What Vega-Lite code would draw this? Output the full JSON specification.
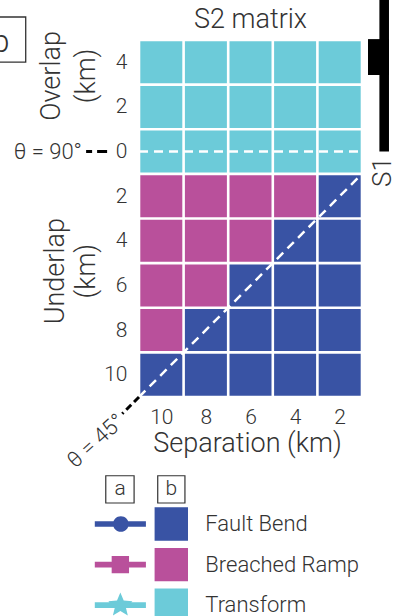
{
  "$schema": "https://vega.github.io/schema/vega-lite/v6.json",
  "width": 223,
  "height": 357,
  "autosize": {"type": "none"},
  "padding": {"left": 139, "top": 40, "right": 34, "bottom": 219},
  "background": "white",
  "data": {
    "values": [
      {"separation": 10, "overlap": 4, "mechanism": "Transform"},
      {"separation": 8, "overlap": 4, "mechanism": "Transform"},
      {"separation": 6, "overlap": 4, "mechanism": "Transform"},
      {"separation": 4, "overlap": 4, "mechanism": "Transform"},
      {"separation": 2, "overlap": 4, "mechanism": "Transform"},
      {"separation": 10, "overlap": 2, "mechanism": "Transform"},
      {"separation": 8, "overlap": 2, "mechanism": "Transform"},
      {"separation": 6, "overlap": 2, "mechanism": "Transform"},
      {"separation": 4, "overlap": 2, "mechanism": "Transform"},
      {"separation": 2, "overlap": 2, "mechanism": "Transform"},
      {"separation": 10, "overlap": 0, "mechanism": "Transform"},
      {"separation": 8, "overlap": 0, "mechanism": "Transform"},
      {"separation": 6, "overlap": 0, "mechanism": "Transform"},
      {"separation": 4, "overlap": 0, "mechanism": "Transform"},
      {"separation": 2, "overlap": 0, "mechanism": "Transform"},
      {"separation": 10, "overlap": -2, "mechanism": "Breached Ramp"},
      {"separation": 8, "overlap": -2, "mechanism": "Breached Ramp"},
      {"separation": 6, "overlap": -2, "mechanism": "Breached Ramp"},
      {"separation": 4, "overlap": -2, "mechanism": "Breached Ramp"},
      {"separation": 2, "overlap": -2, "mechanism": "Fault Bend"},
      {"separation": 10, "overlap": -4, "mechanism": "Breached Ramp"},
      {"separation": 8, "overlap": -4, "mechanism": "Breached Ramp"},
      {"separation": 6, "overlap": -4, "mechanism": "Breached Ramp"},
      {"separation": 4, "overlap": -4, "mechanism": "Fault Bend"},
      {"separation": 2, "overlap": -4, "mechanism": "Fault Bend"},
      {"separation": 10, "overlap": -6, "mechanism": "Breached Ramp"},
      {"separation": 8, "overlap": -6, "mechanism": "Breached Ramp"},
      {"separation": 6, "overlap": -6, "mechanism": "Fault Bend"},
      {"separation": 4, "overlap": -6, "mechanism": "Fault Bend"},
      {"separation": 2, "overlap": -6, "mechanism": "Fault Bend"},
      {"separation": 10, "overlap": -8, "mechanism": "Breached Ramp"},
      {"separation": 8, "overlap": -8, "mechanism": "Fault Bend"},
      {"separation": 6, "overlap": -8, "mechanism": "Fault Bend"},
      {"separation": 4, "overlap": -8, "mechanism": "Fault Bend"},
      {"separation": 2, "overlap": -8, "mechanism": "Fault Bend"},
      {"separation": 10, "overlap": -10, "mechanism": "Fault Bend"},
      {"separation": 8, "overlap": -10, "mechanism": "Fault Bend"},
      {"separation": 6, "overlap": -10, "mechanism": "Fault Bend"},
      {"separation": 4, "overlap": -10, "mechanism": "Fault Bend"},
      {"separation": 2, "overlap": -10, "mechanism": "Fault Bend"}
    ]
  },
  "config": {
    "view": {"stroke": null},
    "font": "Roboto",
    "axis": {
      "domain": false, "ticks": false, "tickSize": 0, "grid": false, "labelFlush": false,
      "labelFont": "Roboto", "labelFontSize": 21, "labelFontWeight": 300, "labelColor": "#333",
      "titleFont": "Roboto", "titleFontSize": 27, "titleFontWeight": 300, "titleColor": "#333"
    },
    "axisX": {"labelPadding": 9, "titlePadding": 3, "labelAngle": 0, "titleX": 108},
    "axisY": {"labelPadding": 12},
    "legend": {
      "orient": "none", "legendX": 15.3, "legendY": 467, "padding": 0,
      "symbolSize": 1116, "symbolStrokeWidth": 0, "symbolOpacity": 1,
      "labelFont": "Roboto", "labelFontSize": 22, "labelFontWeight": 300, "labelColor": "#333",
      "labelOffset": 17, "rowPadding": 6.6
    },
    "text": {"font": "Roboto", "fontWeight": 300, "color": "#333"}
  },
  "layer": [
    {
      "description": "Marker per cell; sits under the cells and feeds the combined legend symbols",
      "mark": {"type": "point", "filled": true, "size": 10},
      "encoding": {
        "x": {"field": "separation", "type": "quantitative", "scale": {"domain": [1, 11], "reverse": true, "nice": false, "zero": false}},
        "y": {"field": "overlap", "type": "quantitative", "scale": {"domain": [-11, 5], "nice": false, "zero": false}},
        "color": {
          "field": "mechanism", "type": "nominal",
          "scale": {"domain": ["Fault Bend", "Breached Ramp", "Transform"], "range": ["#3953a4", "#b9509b", "#6ccbd9"]},
          "legend": {"title": null}
        },
        "shape": {
          "field": "mechanism", "type": "nominal",
          "scale": {
            "domain": ["Fault Bend", "Breached Ramp", "Transform"],
            "range": [
              "M-4.58,-0.17H-1.52V0.17H-4.58Z M-3.49,0A0.47,0.47 0 1 1 -2.55,0A0.47,0.47 0 1 1 -3.49,0Z M-1,-1H1V1H-1Z",
              "M-4.58,-0.17H-1.52V0.17H-4.58Z M-3.57,-0.52H-2.53V0.52H-3.57Z M-1,-1H1V1H-1Z",
              "M-4.58,-0.17H-1.52V0.17H-4.58Z M-3.05,-0.76L-2.85,-0.275L-2.327,-0.235L-2.727,0.105L-2.603,0.615L-3.05,0.34L-3.497,0.615L-3.373,0.105L-3.773,-0.235L-3.25,-0.275Z M-1,-1H1V1H-1Z"
            ]
          },
          "legend": {"title": null}
        }
      }
    },
    {
      "mark": {"type": "rect", "width": 42, "height": 42},
      "encoding": {
        "x": {
          "field": "separation", "type": "quantitative",
          "scale": {"domain": [1, 11], "reverse": true, "nice": false, "zero": false},
          "axis": {"values": [10, 8, 6, 4, 2], "title": "Separation (km)"}
        },
        "y": {
          "field": "overlap", "type": "quantitative",
          "scale": {"domain": [-11, 5], "nice": false, "zero": false},
          "axis": {"values": [4, 2, 0, -2, -4, -6, -8, -10], "labelExpr": "abs(datum.value)", "title": null}
        },
        "color": {
          "field": "mechanism", "type": "nominal",
          "scale": {"domain": ["Fault Bend", "Breached Ramp", "Transform"], "range": ["#3953a4", "#b9509b", "#6ccbd9"]},
          "legend": null
        }
      }
    },
    {
      "description": "theta = 90 deg line along zero overlap",
      "data": {"values": [{}]},
      "mark": {"type": "rule", "color": "white", "strokeWidth": 2.5, "strokeDash": [9, 6]},
      "encoding": {
        "x": {"datum": 11, "type": "quantitative"},
        "x2": {"datum": 1},
        "y": {"datum": 0, "type": "quantitative"}
      }
    },
    {
      "description": "theta = 45 deg line across the underlap block",
      "data": {"values": [{}]},
      "mark": {"type": "rule", "color": "white", "strokeWidth": 2.5, "strokeDash": [9, 6]},
      "encoding": {
        "x": {"datum": 11, "type": "quantitative"},
        "x2": {"datum": 1},
        "y": {"datum": -11, "type": "quantitative"},
        "y2": {"datum": -1}
      }
    },
    {
      "data": {"values": [{}]},
      "mark": {"type": "rule", "color": "black", "strokeWidth": 3, "strokeDash": [7, 4]},
      "encoding": {
        "x": {"datum": 11, "type": "quantitative"},
        "x2": {"datum": 11.75},
        "y": {"datum": -11, "type": "quantitative"},
        "y2": {"datum": -11.75}
      }
    },
    {
      "data": {"values": [{}]},
      "mark": {"type": "rule", "color": "black", "strokeWidth": 3, "strokeDash": [10, 5, 6, 5]},
      "encoding": {
        "x": {"datum": 12.43, "type": "quantitative"},
        "x2": {"datum": 13.38},
        "y": {"datum": 0, "type": "quantitative"}
      }
    },
    {
      "data": {"values": [{}]},
      "mark": {"type": "text", "text": "S2 matrix", "align": "center", "baseline": "alphabetic", "fontSize": 27},
      "encoding": {
        "x": {"datum": 6, "type": "quantitative"},
        "y": {"datum": 5.54, "type": "quantitative"}
      }
    },
    {
      "data": {"values": [{}]},
      "mark": {"type": "text", "text": "θ = 90°", "align": "right", "baseline": "middle", "fontSize": 22},
      "encoding": {
        "x": {"datum": 13.56, "type": "quantitative"},
        "y": {"datum": 0, "type": "quantitative"}
      }
    },
    {
      "data": {"values": [{}]},
      "mark": {"type": "text", "text": "θ = 45°", "align": "right", "baseline": "middle", "fontSize": 22, "angle": 318},
      "encoding": {
        "x": {"datum": 11.8, "type": "quantitative"},
        "y": {"datum": -11.95, "type": "quantitative"}
      }
    },
    {
      "data": {"values": [{}]},
      "mark": {"type": "text", "text": ["Overlap", "(km)"], "align": "center", "baseline": "middle", "fontSize": 27, "lineHeight": 35, "angle": 270},
      "encoding": {
        "x": {"datum": 14.92, "type": "quantitative"},
        "y": {"datum": 3.39, "type": "quantitative"}
      }
    },
    {
      "data": {"values": [{}]},
      "mark": {"type": "text", "text": ["Underlap", "(km)"], "align": "center", "baseline": "middle", "fontSize": 27, "lineHeight": 31, "angle": 270},
      "encoding": {
        "x": {"datum": 14.7, "type": "quantitative"},
        "y": {"datum": -5.36, "type": "quantitative"}
      }
    },
    {
      "description": "S1 fault trace",
      "data": {"values": [{}]},
      "mark": {"type": "rect", "color": "black"},
      "encoding": {
        "x": {"datum": 0.22, "type": "quantitative"},
        "x2": {"datum": -0.21},
        "y": {"datum": 0, "type": "quantitative"},
        "y2": {"datum": 6.8}
      }
    },
    {
      "data": {"values": [{}]},
      "mark": {"type": "rect", "color": "black"},
      "encoding": {
        "x": {"datum": 0.73, "type": "quantitative"},
        "x2": {"datum": -0.21},
        "y": {"datum": 5.04, "type": "quantitative"},
        "y2": {"datum": 3.43}
      }
    },
    {
      "data": {"values": [{}]},
      "mark": {"type": "text", "text": "S1", "align": "center", "baseline": "middle", "fontSize": 26, "angle": 270},
      "encoding": {
        "x": {"datum": 0.06, "type": "quantitative"},
        "y": {"datum": -0.92, "type": "quantitative"}
      }
    },
    {
      "description": "panel tag b",
      "data": {"values": [{}]},
      "mark": {"type": "rect", "fillOpacity": 0, "stroke": "#333", "strokeWidth": 1.3},
      "encoding": {
        "x": {"datum": 16.08, "type": "quantitative"},
        "x2": {"datum": 18.35},
        "y": {"datum": 6.03, "type": "quantitative"},
        "y2": {"datum": 4.01}
      }
    },
    {
      "data": {"values": [{}]},
      "mark": {"type": "text", "text": "b", "align": "center", "baseline": "alphabetic", "fontSize": 32},
      "encoding": {
        "x": {"datum": 17.2, "type": "quantitative"},
        "y": {"datum": 4.46, "type": "quantitative"}
      }
    },
    {
      "description": "legend column tag a",
      "data": {"values": [{}]},
      "mark": {"type": "rect", "fillOpacity": 0, "stroke": "#333", "strokeWidth": 1.2},
      "encoding": {
        "x": {"datum": 12.49, "type": "quantitative"},
        "x2": {"datum": 11.22},
        "y": {"datum": -14.53, "type": "quantitative"},
        "y2": {"datum": -15.75}
      }
    },
    {
      "data": {"values": [{}]},
      "mark": {"type": "text", "text": "a", "align": "center", "baseline": "middle", "fontSize": 21},
      "encoding": {
        "x": {"datum": 11.85, "type": "quantitative"},
        "y": {"datum": -15.14, "type": "quantitative"}
      }
    },
    {
      "description": "legend column tag b",
      "data": {"values": [{}]},
      "mark": {"type": "rect", "fillOpacity": 0, "stroke": "#333", "strokeWidth": 1.2},
      "encoding": {
        "x": {"datum": 10.16, "type": "quantitative"},
        "x2": {"datum": 8.94},
        "y": {"datum": -14.53, "type": "quantitative"},
        "y2": {"datum": -15.75}
      }
    },
    {
      "data": {"values": [{}]},
      "mark": {"type": "text", "text": "b", "align": "center", "baseline": "middle", "fontSize": 21},
      "encoding": {
        "x": {"datum": 9.55, "type": "quantitative"},
        "y": {"datum": -15.14, "type": "quantitative"}
      }
    }
  ]
}
